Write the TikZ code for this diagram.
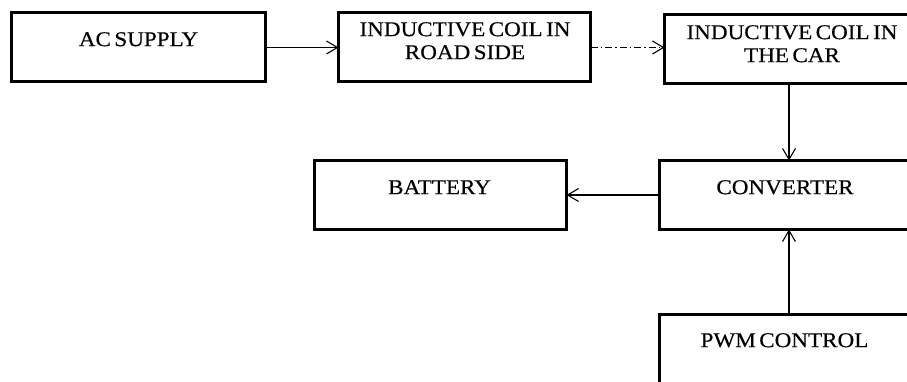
\documentclass[tikz,border=0pt]{standalone}
\usepackage{fontspec}
\setmainfont{Liberation Serif}[FakeStretch=1.1, FakeBold=0.4, WordSpace=0.6]
\usetikzlibrary{arrows.meta}
\begin{document}
\begin{tikzpicture}[x=1pt,y=-1pt,
  blk/.style={draw=black, line width=3pt, minimum width=#1, minimum height=69pt, inner sep=0pt, outer sep=0pt},
  lbl/.style={anchor=north, inner sep=0pt, font=\fontsize{21pt}{23pt}\selectfont, align=center},
  arr/.style={line width=1.1pt, -{Straight Barb[length=11pt,width=13pt,line width=1.1pt]}},
  dashdot/.style={dash pattern=on 7pt off 3pt on 1.5pt off 3pt}]
\useasboundingbox (0,0) rectangle (907,382);
\clip (0,0) rectangle (907,382);
\fill[white] (0,0) rectangle (907,382);
% boxes
\node[blk=254pt] (ac) at (138.5,47.5) {};
\node[blk=252pt] (road) at (464.5,47.5) {};
\node[blk=255pt] (car) at (792,49) {};
\node[blk=252pt] (bat) at (440.5,195) {};
\node[blk=251pt] (conv) at (785,195) {};
\node[blk=250pt] (pwm) at (784.5,349) {};
% labels
\node[lbl] (tac) at (138.5,32) {AC SUPPLY};
\node[lbl] (troad) at (465,22) {INDUCTIVE COIL IN\\ROAD SIDE};
\node[lbl] (tcar) at (792,25) {INDUCTIVE COIL IN\\THE CAR};
\node[lbl] (tbat) at (439.5,180) {BATTERY};
\node[lbl] (tconv) at (785,180) {CONVERTER};
\node[lbl] (tpwm) at (784.5,333) {PWM CONTROL};
% connectors
\draw[arr] (ac.east) -- (road.west);
\draw[arr, dashdot] (road.east) -- (road.east -| car.west);
\draw[arr] ([xshift=-3pt]car.south) -- ([xshift=-3pt]car.south |- conv.north);
\draw[arr] (conv.west) -- (conv.west -| bat.east);
\draw[arr] ([xshift=4.5pt]pwm.north) -- ([xshift=4.5pt]pwm.north |- conv.south);
\end{tikzpicture}
\end{document}
